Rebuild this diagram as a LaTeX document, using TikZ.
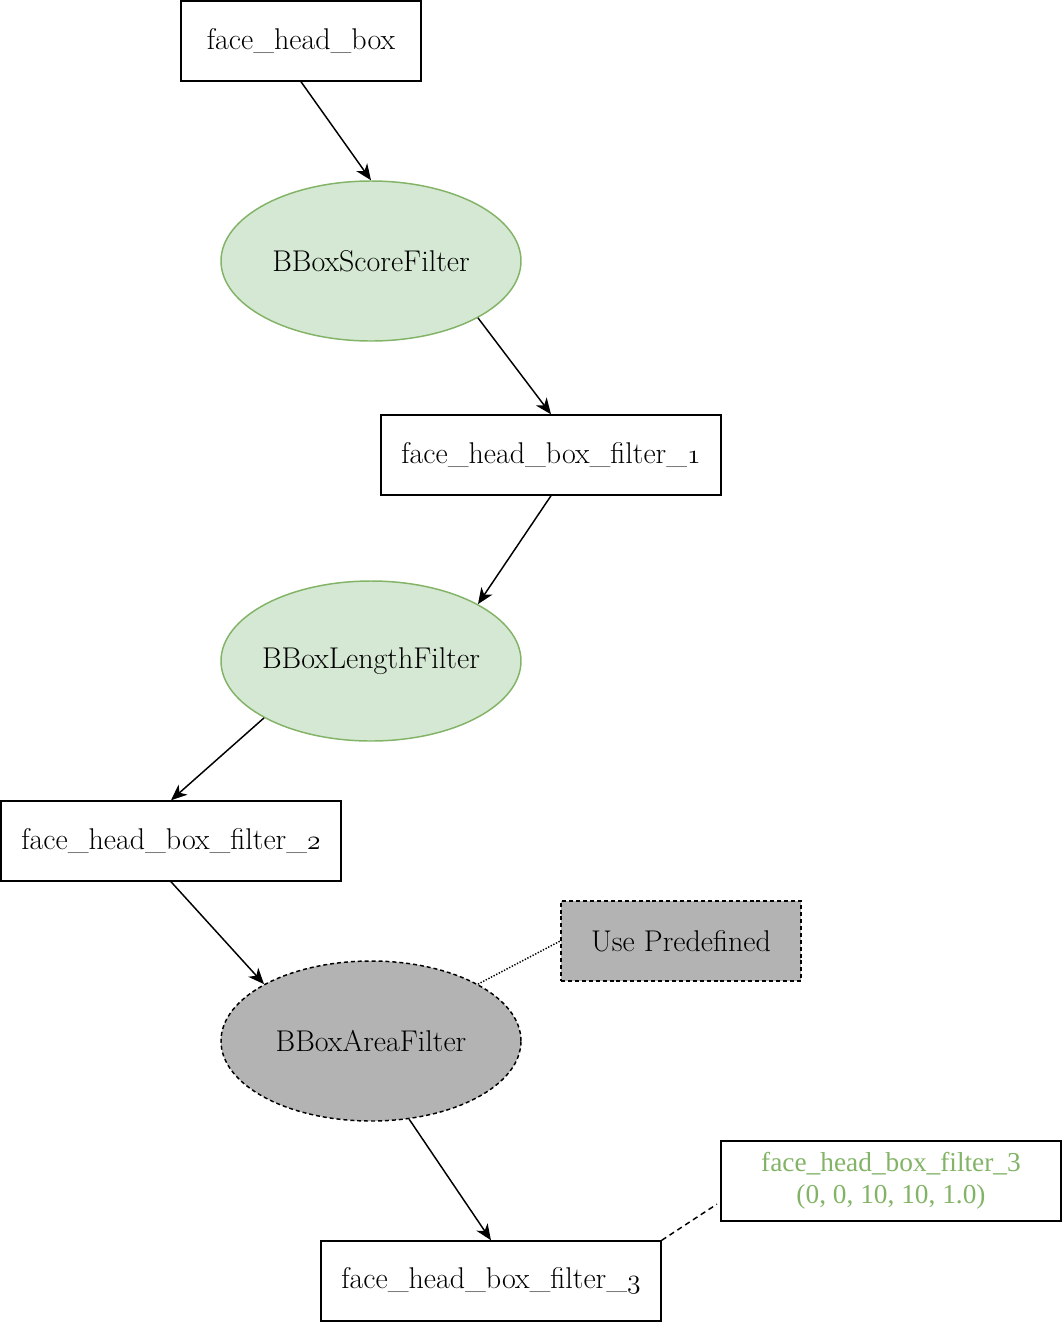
\documentclass[tikz,border=0pt]{standalone}
\usepackage{fontspec}
\usepackage{tikz}
\usetikzlibrary{shapes.geometric,arrows.meta}

\newfontfamily\notefont{Liberation Serif}
\definecolor{leafline}{HTML}{82B366}
\definecolor{leaffill}{HTML}{D5E8D4}
\definecolor{predef}{HTML}{B3B3B3}
\newcommand{\osnum}[1]{{\usefont{OML}{cmm}{m}{it}#1}}

\begin{document}
\begin{tikzpicture}[
  x=0.75pt, y=-0.75pt,
  >={Stealth[length=12pt, width=10pt, inset=3.5pt]},
  lbl/.style={font=\fontsize{22.5}{26}\selectfont},
  box/.style={draw, lbl, line width=1.1pt, minimum width=180pt, minimum height=60pt, inner sep=0pt},
  widebox/.style={box, minimum width=255pt},
  filt/.style={ellipse, draw=leafline, fill=leaffill, lbl, line width=1.1pt,
               minimum width=225pt, minimum height=120pt, inner xsep=-20pt, inner ysep=0pt},
  predefined/.style={fill=predef, dash pattern=on 3pt off 2.2pt},
  note/.style={draw, line width=1.1pt, minimum width=255pt, minimum height=60pt, inner sep=0pt,
               align=center, text=leafline, font=\notefont\fontsize{20.5}{24}\selectfont},
  flow/.style={->, line width=1.1pt}
]
\useasboundingbox (0,0) rectangle (1062,1322);

\node[box]                 (src)  at (301,41)   {face\_head\_box};
\node[filt]                (score) at (371,261) {BBoxScoreFilter};
\node[widebox]             (f1)   at (551,455)  {face\_head\_box\_filter\_\osnum{1}};
\node[filt]                (len)  at (371,661)  {BBoxLengthFilter};
\node[widebox]             (f2)   at (171,841)  {face\_head\_box\_filter\_\osnum{2}};
\node[box, predefined]     (pre)  at (681,941)  {Use Predefined};
\node[filt, draw=black, predefined] (area) at (371,1041) {BBoxAreaFilter};
\node[note]                (val)  at (891,1181) {face\_head\_box\_filter\_3\\(0, 0, 10, 10, 1.0)};
\node[widebox]             (f3)   at (491,1281) {face\_head\_box\_filter\_\osnum{3}};

\draw[flow] (src.south) -- (score.north);
\draw[flow] (score.-28) -- (f1.north);
\draw[flow] (f1.south) -- (len.28);
\draw[flow] (len.208) -- (f2.north);
\draw[flow] (f2.south) -- (area.152);
\draw[flow] (area.-64) -- (f3.north);
\draw[line width=1.1pt, dash pattern=on 1pt off 1.2pt] (area.28) -- (pre.west);
\draw[line width=1.1pt, dash pattern=on 4pt off 3pt, shorten >=3pt] (f3.north east) -- (val.187);
\end{tikzpicture}
\end{document}
